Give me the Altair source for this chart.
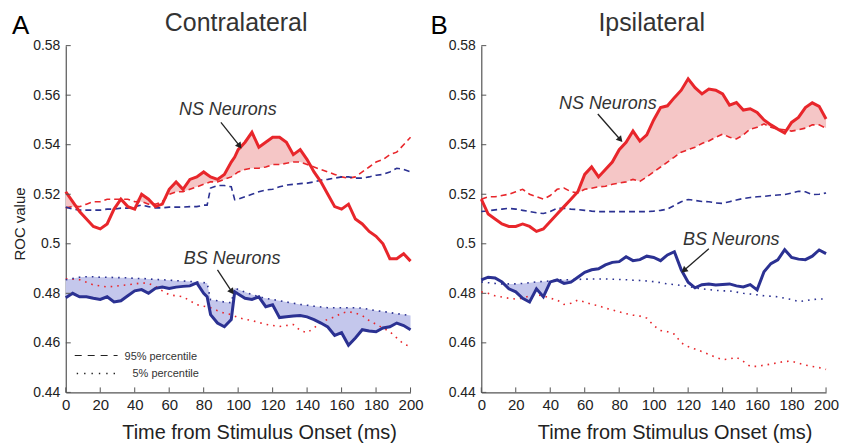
import altair as alt
import pandas as pd

# ---------------- data ----------------
TIME_LEFT = [0, 4, 8, 12, 16, 20, 24, 28, 32, 36, 40, 44, 48, 52, 56, 60, 64, 68, 72, 76,
             80, 82, 84, 88, 92, 96, 98, 100, 104, 108, 112, 116, 120, 124, 128, 132, 136,
             140, 144, 148, 152, 156, 160, 164, 168, 172, 176, 180, 184, 188, 192, 196, 200]

L_NS = [0.521, 0.517, 0.513, 0.510, 0.507, 0.506, 0.508, 0.514, 0.518, 0.515,
        0.514, 0.520, 0.518, 0.515, 0.516, 0.522, 0.525, 0.522, 0.526, 0.527,
        0.529, 0.528, 0.527, 0.526, 0.528, 0.533, 0.535, 0.538, 0.541, 0.545,
        0.539, 0.541, 0.543, 0.543, 0.541, 0.536, 0.538, 0.534, 0.529, 0.525,
        0.520, 0.515, 0.514, 0.516, 0.510, 0.508, 0.505, 0.503, 0.500, 0.494,
        0.494, 0.496, 0.493]
L_NS95 = [0.5145, 0.515, 0.515, 0.516, 0.517, 0.517, 0.518, 0.518, 0.518, 0.518,
          0.517, 0.517, 0.516, 0.516, 0.517, 0.520, 0.521, 0.521, 0.522, 0.523,
          0.524, 0.5245, 0.525, 0.525, 0.526, 0.527, 0.528, 0.529, 0.530, 0.5305,
          0.5305, 0.531, 0.532, 0.532, 0.5325, 0.533, 0.533, 0.532, 0.531, 0.530,
          0.529, 0.528, 0.527, 0.5265, 0.527, 0.529, 0.531, 0.533, 0.534, 0.536,
          0.537, 0.540, 0.543]
L_NS5 = [0.4859, 0.4857, 0.4855, 0.4845, 0.4834, 0.483, 0.4826, 0.4828, 0.4832, 0.4834,
         0.4838, 0.4842, 0.484, 0.4828, 0.481, 0.4794, 0.479, 0.4786, 0.477, 0.4754,
         0.4748, 0.4745, 0.4742, 0.473, 0.472, 0.4714, 0.4708, 0.4702, 0.4695, 0.469,
         0.4682, 0.4675, 0.467, 0.4666, 0.467, 0.4674, 0.465, 0.4641, 0.466, 0.4682,
         0.4695, 0.4705, 0.472, 0.4726, 0.472, 0.471, 0.469, 0.4675, 0.466, 0.4645,
         0.462, 0.4595, 0.4585]
L_BS = [0.4782, 0.480, 0.4786, 0.4786, 0.478, 0.4775, 0.4786, 0.4765, 0.477, 0.479,
        0.481, 0.4815, 0.480, 0.482, 0.4825, 0.482, 0.4825, 0.4828, 0.483, 0.4842,
        0.480, 0.4786, 0.4714, 0.468, 0.4665, 0.4694, 0.4806, 0.4797, 0.478, 0.4775,
        0.4786, 0.4746, 0.4754, 0.4702, 0.4705, 0.4708, 0.471, 0.4705, 0.4694, 0.468,
        0.4664, 0.463, 0.4641, 0.459, 0.462, 0.4653, 0.4648, 0.4645, 0.466, 0.4665,
        0.468, 0.467, 0.4653]
L_BS95 = [0.5148, 0.514, 0.5136, 0.5136, 0.5136, 0.5136, 0.514, 0.514, 0.5144, 0.5144,
          0.515, 0.5156, 0.515, 0.5145, 0.5145, 0.5148, 0.5148, 0.5148, 0.515, 0.515,
          0.5156, 0.5156, 0.5225, 0.5235, 0.5235, 0.523, 0.5178, 0.518, 0.519, 0.520,
          0.521, 0.5217, 0.522, 0.523, 0.5237, 0.524, 0.5243, 0.5245, 0.525, 0.5257,
          0.526, 0.5265, 0.527, 0.527, 0.5265, 0.5265, 0.527, 0.5277, 0.528, 0.529,
          0.5305, 0.530, 0.529]
L_BS5 = [0.4855, 0.486, 0.4865, 0.4867, 0.4867, 0.4865, 0.4865, 0.4864, 0.4863, 0.4863,
         0.486, 0.486, 0.4858, 0.4856, 0.4855, 0.4853, 0.4851, 0.485, 0.4848, 0.4846,
         0.4843, 0.4842, 0.4774, 0.477, 0.4765, 0.4762, 0.4822, 0.4815, 0.4805, 0.4795,
         0.4786, 0.478, 0.4775, 0.477, 0.4765, 0.476, 0.4755, 0.4752, 0.4748, 0.4745,
         0.4742, 0.4742, 0.4742, 0.4742, 0.4742, 0.474, 0.4735, 0.473, 0.4727, 0.4722,
         0.4718, 0.4714, 0.471]

TIME_RIGHT = list(range(0, 201, 4))

R_NS = [0.518, 0.512, 0.510, 0.508, 0.507, 0.507, 0.508, 0.507, 0.505, 0.506,
        0.509, 0.512, 0.515, 0.518, 0.521, 0.528, 0.531, 0.527, 0.530, 0.533,
        0.538, 0.541, 0.5455, 0.5415, 0.544, 0.550, 0.555, 0.5557, 0.559, 0.562,
        0.5666, 0.563, 0.5605, 0.5625, 0.562, 0.5605, 0.556, 0.557, 0.554, 0.5545,
        0.553, 0.550, 0.548, 0.5463, 0.5447, 0.549, 0.551, 0.555, 0.5569, 0.5555,
        0.5504]
R_NS95 = [0.518, 0.519, 0.519, 0.5195, 0.520, 0.521, 0.522, 0.520, 0.519, 0.518,
          0.5195, 0.522, 0.5225, 0.521, 0.5205, 0.522, 0.5224, 0.523, 0.5232, 0.524,
          0.5245, 0.525, 0.526, 0.5252, 0.527, 0.529, 0.531, 0.533, 0.535, 0.537,
          0.538, 0.539, 0.5405, 0.5415, 0.543, 0.5443, 0.543, 0.5423, 0.544, 0.5463,
          0.547, 0.5484, 0.547, 0.5463, 0.546, 0.5455, 0.546, 0.5467, 0.548, 0.548,
          0.5467]
R_NS5 = [0.4806, 0.480, 0.479, 0.4785, 0.478, 0.4777, 0.478, 0.479, 0.4794, 0.479,
         0.478, 0.4773, 0.4755, 0.476, 0.4773, 0.4765, 0.4755, 0.475, 0.474, 0.4733,
         0.4725, 0.4718, 0.4712, 0.4708, 0.470, 0.467, 0.465, 0.4645, 0.4635, 0.460,
         0.4585, 0.4575, 0.4565, 0.4553, 0.4542, 0.4532, 0.4535, 0.4542, 0.4525, 0.4505,
         0.4505, 0.451, 0.4514, 0.452, 0.4525, 0.4526, 0.4518, 0.451, 0.4505, 0.450,
         0.4493]
R_BS = [0.4854, 0.4865, 0.4862, 0.4846, 0.4818, 0.4806, 0.478, 0.4765, 0.4818, 0.4786,
        0.4846, 0.4854, 0.484, 0.4845, 0.4865, 0.4885, 0.4895, 0.4899, 0.4915, 0.4925,
        0.4928, 0.4948, 0.4932, 0.4936, 0.495, 0.4945, 0.4932, 0.4955, 0.4968, 0.4895,
        0.4845, 0.4822, 0.4835, 0.4838, 0.4834, 0.4836, 0.4838, 0.483, 0.4826, 0.4835,
        0.4814, 0.4887, 0.492, 0.4935, 0.4976, 0.4945, 0.4938, 0.4936, 0.495, 0.4975,
        0.496]
R_BS95 = [0.513, 0.5133, 0.5137, 0.514, 0.5143, 0.514, 0.5135, 0.513, 0.5125, 0.5122,
          0.513, 0.5143, 0.5143, 0.514, 0.5138, 0.5135, 0.5132, 0.513, 0.513, 0.513,
          0.513, 0.513, 0.513, 0.513, 0.513, 0.5132, 0.5135, 0.514, 0.5155, 0.517,
          0.5179, 0.5175, 0.5171, 0.517, 0.5165, 0.5163, 0.517, 0.5177, 0.5183, 0.5187,
          0.519, 0.5191, 0.5195, 0.5197, 0.5199, 0.5205, 0.5212, 0.521, 0.5199, 0.520,
          0.5205]
R_BS5 = [0.4846, 0.4843, 0.484, 0.4838, 0.4838, 0.4838, 0.484, 0.4843, 0.4846, 0.4848,
         0.485, 0.4854, 0.4855, 0.4855, 0.4856, 0.4857, 0.4858, 0.4858, 0.4858, 0.4857,
         0.4856, 0.4855, 0.4853, 0.4852, 0.485, 0.4847, 0.4843, 0.4838, 0.4835, 0.4832,
         0.4828, 0.4822, 0.4818, 0.4815, 0.4812, 0.481, 0.481, 0.4805, 0.480, 0.4797,
         0.4794, 0.479, 0.4788, 0.4786, 0.478, 0.4775, 0.4767, 0.477, 0.4775, 0.4777,
         0.4777]

X_TICKS = [0, 20, 40, 60, 80, 100, 120, 140, 160, 180, 200]
Y_TICKS = [0.44, 0.46, 0.48, 0.50, 0.52, 0.54, 0.56, 0.58]

# annotation labels (text, text position, arrow start, arrow end, head angle)
NOTES_LEFT = [
    {"label": "NS Neurons", "tx": 94, "tv": 0.5539, "x1": 90, "v1": 0.5490, "x2": 100.5, "v2": 0.5398, "ang": 142},
    {"label": "BS Neurons", "tx": 96.5, "tv": 0.4939, "x1": 88, "v1": 0.4895, "x2": 96, "v2": 0.4810, "ang": 146},
]
NOTES_RIGHT = [
    {"label": "NS Neurons", "tx": 73.4, "tv": 0.5565, "x1": 67.6, "v1": 0.5524, "x2": 80.3, "v2": 0.5423, "ang": 139},
    {"label": "BS Neurons", "tx": 145, "tv": 0.5017, "x1": 132, "v1": 0.4980, "x2": 118, "v2": 0.4895, "ang": 230},
]

# ---------------- styling ----------------
W, H = 346, 348
RED = "#e8262b"
BLUE = "#2b3192"
RED_FILL = "#f5c6c6"
BLUE_FILL = "#c4c7ec"
FONT = "Liberation Sans, Arial, sans-serif"
AXC = "#555555"

XSCALE = alt.Scale(domain=[0, 200], nice=False)
YSCALE = alt.Scale(domain=[0.44, 0.58], nice=False, zero=False)


def panel(t, ns, ns95, ns5, bs, bs95, bs5, title, letter, letter_x, ytitle, notes, legend):
    xaxis = alt.Axis(values=X_TICKS, labelFlush=False,
                     title="Time from Stimulus Onset (ms)",
                     titleX=W / 2 + 21, titleAlign="center")
    yaxis = alt.Axis(values=Y_TICKS, format=".2~f", title="")

    def X(f):
        return alt.X(f"{f}:Q", scale=XSCALE, axis=xaxis)

    def Y(f):
        return alt.Y(f"{f}:Q", scale=YSCALE, axis=yaxis)

    df = pd.DataFrame({"t": t, "ns": ns, "ns95": ns95, "ns5": ns5,
                       "bs": bs, "bs95": bs95, "bs5": bs5})
    base = alt.Chart(df)

    ns_fill = base.transform_calculate(top="max(datum.ns, datum.ns95)").mark_area(
        color=RED_FILL, opacity=1).encode(x=X("t"), y=Y("ns95"), y2="top:Q")
    bs_fill = base.transform_calculate(bot="min(datum.bs, datum.bs5)").mark_area(
        color=BLUE_FILL, opacity=1).encode(x=X("t"), y=Y("bs5"), y2="bot:Q")

    def line(f, color, width, dash=None):
        kw = {"strokeDash": dash} if dash else {}
        return base.mark_line(color=color, strokeWidth=width, **kw).encode(x=X("t"), y=Y(f))

    layers = [
        ns_fill, bs_fill,
        line("ns95", RED, 1.6, [6, 4]),
        line("bs95", BLUE, 1.6, [6, 4]),
        line("ns5", RED, 1.6, [1.6, 5]),
        line("bs5", BLUE, 1.6, [1.6, 5]),
        line("ns", RED, 3),
        line("bs", BLUE, 3),
    ]

    # inward ticks
    layers.append(alt.Chart(pd.DataFrame({"t": X_TICKS})).mark_rule(color=AXC, strokeWidth=1).encode(
        x=X("t"), y=alt.value(H), y2=alt.value(H - 5)))
    layers.append(alt.Chart(pd.DataFrame({"v": Y_TICKS})).mark_rule(color=AXC, strokeWidth=1).encode(
        y=Y("v"), x=alt.value(0), x2=alt.value(5)))

    ndf = pd.DataFrame(notes)
    nb = alt.Chart(ndf)
    layers.append(nb.mark_rule(color="#222", strokeWidth=1.3).encode(
        x=X("x1"), y=Y("v1"), x2="x2:Q", y2="v2:Q"))
    layers.append(nb.mark_point(shape="triangle", filled=True, size=50, color="#222", opacity=1).encode(
        x=X("x2"), y=Y("v2"), angle=alt.Angle("ang:Q", scale=None)))
    layers.append(nb.mark_text(font=FONT, fontStyle="italic", fontSize=18, color="#333").encode(
        x=X("tx"), y=Y("tv"), text="label:N"))

    # panel letter and panel title
    layers.append(alt.Chart(pd.DataFrame({"s": [letter]})).mark_text(
        align="left", baseline="alphabetic", font=FONT, fontSize=26, color="#000").encode(
        text="s:N", x=alt.value(letter_x), y=alt.value(-12)))
    layers.append(alt.Chart(pd.DataFrame({"s": [title]})).mark_text(
        align="center", baseline="alphabetic", font=FONT, fontSize=25, color="#333").encode(
        text="s:N", x=alt.value(W / 2 - 2), y=alt.value(-15)))

    if ytitle:
        layers.append(alt.Chart(pd.DataFrame({"s": [ytitle]})).mark_text(
            align="center", baseline="middle", font=FONT, fontSize=15, color="#222", angle=270).encode(
            text="s:N", x=alt.value(-46), y=alt.value(179)))

    if legend:
        layers.append(alt.Chart(pd.DataFrame({"a": [0]})).mark_rule(
            color="#222", strokeWidth=1.2, strokeDash=[7, 6]).encode(
            x=alt.value(9), x2=alt.value(52), y=alt.value(311)))
        layers.append(alt.Chart(pd.DataFrame({"a": [0]})).mark_rule(
            color="#222", strokeWidth=1.4, strokeDash=[1.4, 6]).encode(
            x=alt.value(11), x2=alt.value(50), y=alt.value(329)))
        ldf = pd.DataFrame({"s": ["95% percentile", "5% percentile"], "px": [59, 67], "py": [315, 333]})
        layers.append(alt.Chart(ldf).mark_text(
            align="left", baseline="alphabetic", font=FONT, fontSize=11, color="#333").encode(
            text="s:N", x=alt.X("px:Q", scale=None), y=alt.Y("py:Q", scale=None)))

    return alt.layer(*layers).properties(width=W, height=H)


left = panel(TIME_LEFT, L_NS, L_NS95, L_NS5, L_BS, L_BS95, L_BS5,
             "Contralateral", "A", -54, "ROC value", NOTES_LEFT, True)
right = panel(TIME_RIGHT, R_NS, R_NS95, R_NS5, R_BS, R_BS95, R_BS5,
              "Ipsilateral", "B", -51, "", NOTES_RIGHT, False)

chart = alt.hconcat(left, right, spacing=71, bounds="flush").properties(
    padding={"left": 12, "top": 10, "right": 4, "bottom": 2}
).configure_view(stroke=None).configure_axis(
    domainColor=AXC, domainWidth=1.2, grid=False, ticks=False, tickSize=0,
    labelColor="#222", titleColor="#222", titleFontWeight="normal",
    labelFont=FONT, titleFont=FONT
).configure_axisX(
    labelFontSize=15, labelPadding=5, titleFontSize=20, titlePadding=10
).configure_axisY(
    labelFontSize=14, labelPadding=6, titlePadding=0
)

chart.save("out.html", embed_options={"renderer": "svg", "actions": False})
